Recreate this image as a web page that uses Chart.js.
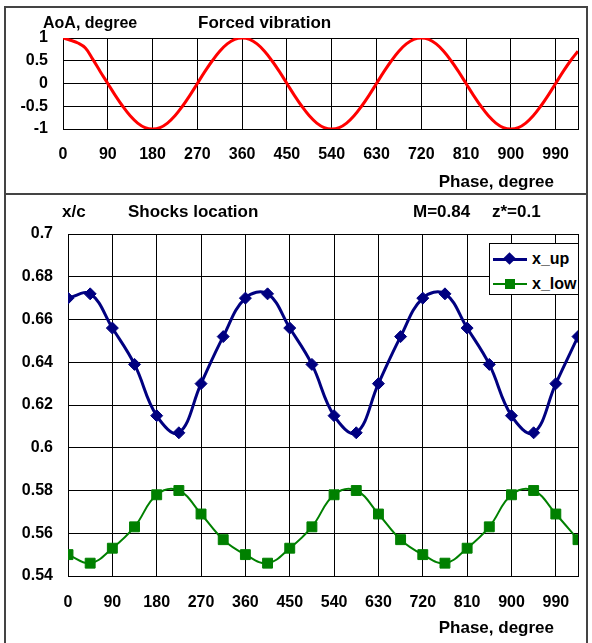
<!DOCTYPE html>
<html>
<head>
<meta charset="utf-8">
<script src="https://cdn.jsdelivr.net/npm/chart.js@4.4.0/dist/chart.umd.min.js"></script>
<style>
body { margin: 0; width: 592px; height: 643px; overflow: hidden; background: #fff; position: relative;
       font-family: "Liberation Sans", Arial, sans-serif; font-weight: bold; color: #000; }
.frame { position: absolute; border: 2px solid #444; box-sizing: border-box; }
.txt { position: absolute; line-height: 20px; white-space: nowrap; font-size: 17px; }
canvas { position: absolute; left: 0; }
#legend { position: absolute; left: 489px; top: 243px; width: 90px; height: 52px; border: 1px solid #000;
          background: #fff; box-sizing: border-box; }
.lrow { position: absolute; left: 0; width: 88px; height: 20px; }
.lline { position: absolute; left: 3px; top: 9px; width: 34px; }
.lmark { position: absolute; }
.ltext { position: absolute; left: 42px; top: 0; line-height: 20px; font-size: 16px; }
</style>
</head>
<body>
<div class="frame" style="left:4px;top:6px;width:584px;height:189px"></div>
<div class="frame" style="left:4px;top:193px;width:584px;height:470px"></div>

<canvas id="aoaChart" width="592" height="195" style="top:0"></canvas>
<canvas id="shockChart" width="592" height="448" style="top:195px"></canvas>

<div class="txt" style="left:43px;top:13px;font-size:16px">AoA, degree</div>
<div class="txt" style="left:198px;top:13px">Forced vibration</div>
<div class="txt" style="right:38px;top:172px">Phase, degree</div>

<div class="txt" style="left:62px;top:202px">x/c</div>
<div class="txt" style="left:128px;top:202px">Shocks location</div>
<div class="txt" style="left:413px;top:202px">M=0.84</div>
<div class="txt" style="left:492px;top:202px">z*=0.1</div>
<div class="txt" style="right:38px;top:618px">Phase, degree</div>

<div id="legend">
  <div class="lrow" style="top:5px">
    <div class="lline" style="height:3px;background:#000080"></div>
    <div class="lmark" style="left:15px;top:5px;width:9px;height:9px;background:#000080;transform:rotate(45deg)"></div>
    <div class="ltext">x_up</div>
  </div>
  <div class="lrow" style="top:30px">
    <div class="lline" style="height:2px;background:#008000"></div>
    <div class="lmark" style="left:15px;top:5px;width:10px;height:10px;background:#008000"></div>
    <div class="ltext">x_low</div>
  </div>
</div>

<script>
// forced vibration: angle of attack vs phase
var aoaPhase = [0, 15, 30, 45, 60, 75, 90, 105, 120, 135, 150, 165, 180, 195, 210, 225, 240, 255, 270, 285, 300, 315, 330, 345,
    360, 375, 390, 405, 420, 435, 450, 465, 480, 495, 510, 525, 540, 555, 570, 585, 600, 615, 630, 645, 660, 675, 690, 705,
    720, 735, 750, 765, 780, 795, 810, 825, 840, 855, 870, 885, 900, 915, 930, 945, 960, 975, 990, 1005, 1020, 1035]
var aoaValues = [1, 0.95, 0.89, 0.78, 0.53, 0.26, 0, -0.26, -0.5, -0.71, -0.87, -0.97, -1, -0.97, -0.87, -0.71, -0.5, -0.26, 0, 0.26, 0.5, 0.71, 0.87, 0.97,
    1, 0.97, 0.87, 0.71, 0.5, 0.26, 0, -0.26, -0.5, -0.71, -0.87, -0.97, -1, -0.97, -0.87, -0.71, -0.5, -0.26, 0, 0.26, 0.5, 0.71, 0.87, 0.97,
    1, 0.97, 0.87, 0.71, 0.5, 0.26, 0, -0.26, -0.5, -0.71, -0.87, -0.97, -1, -0.97, -0.87, -0.71, -0.5, -0.26, 0, 0.26, 0.5, 0.71]

// shock location on upper / lower surface
var shockPhase = [0, 45, 90, 135, 180, 225, 270, 315, 360, 405, 450, 495, 540, 585, 630, 675, 720, 765, 810, 855, 900, 945, 990, 1035]
var xUp = [0.670, 0.672, 0.656, 0.639, 0.615, 0.607, 0.630, 0.652,
    0.670, 0.672, 0.656, 0.639, 0.615, 0.607, 0.630, 0.652,
    0.670, 0.672, 0.656, 0.639, 0.615, 0.607, 0.630, 0.652]
var xLow = [0.550, 0.546, 0.553, 0.563, 0.578, 0.580, 0.569, 0.557,
    0.550, 0.546, 0.553, 0.563, 0.578, 0.580, 0.569, 0.557,
    0.550, 0.546, 0.553, 0.563, 0.578, 0.580, 0.569, 0.557]

var phaseMax = 1035
var phaseStep = 90

Chart.defaults.font.family = '"Liberation Sans", Arial, sans-serif'
Chart.defaults.font.weight = 'bold'
Chart.defaults.font.size = 16
Chart.defaults.color = '#000'

function toXY(xs, ys) {
    return xs.map(function(x, i) { return { x: x, y: ys[i] } })
}

function plainNum(v) {
    return String(Number(v.toFixed(2)))
}

// box around the plot area (right edge has no tick)
var plotFrame = {
    id: 'plotFrame',
    beforeDatasetsDraw: function(chart) {
        var a = chart.chartArea, ctx = chart.ctx
        ctx.save()
        ctx.strokeStyle = '#000'
        ctx.lineWidth = 1
        ctx.strokeRect(Math.round(a.left) + 0.5, Math.round(a.top) + 0.5, Math.round(a.right - a.left), Math.round(a.bottom - a.top))
        ctx.restore()
    }
}

function phaseAxis(pad, h) {
    return {
        type: 'linear',
        min: 0,
        max: phaseMax,
        grid: { color: '#000', drawTicks: false },
        border: { color: '#000' },
        ticks: { stepSize: phaseStep, includeBounds: false, padding: pad, maxRotation: 0 },
        afterFit: function(s) { s.height = h }
    }
}

new Chart(document.getElementById('aoaChart').getContext('2d'), {
    type: 'line',
    data: {
        datasets: [{
            label: 'AoA',
            data: toXY(aoaPhase, aoaValues),
            borderColor: '#ff0000',
            borderWidth: 3,
            pointRadius: 0,
            tension: 0.4
        }]
    },
    options: {
        responsive: false,
        animation: false,
        layout: { padding: { top: 38, right: 14, left: 0, bottom: 0 } },
        plugins: { legend: { display: false }, tooltip: { enabled: false } },
        scales: {
            x: phaseAxis(16, 66),
            y: {
                min: -1,
                max: 1,
                grid: { color: '#000', drawTicks: false },
                border: { color: '#000' },
                ticks: { stepSize: 0.5, padding: 15, callback: plainNum },
                afterFit: function(s) { s.width = 63 }
            }
        }
    },
    plugins: [plotFrame]
})

new Chart(document.getElementById('shockChart').getContext('2d'), {
    type: 'line',
    data: {
        datasets: [{
            label: 'x_up',
            data: toXY(shockPhase, xUp),
            borderColor: '#000080',
            backgroundColor: '#000080',
            borderWidth: 3,
            pointStyle: 'rectRot',
            pointRadius: 6,
            pointBorderWidth: 1,
            tension: 0.4
        }, {
            label: 'x_low',
            data: toXY(shockPhase, xLow),
            borderColor: '#008000',
            backgroundColor: '#008000',
            borderWidth: 2,
            pointStyle: 'rect',
            pointRadius: 7,
            pointBorderWidth: 1,
            tension: 0.4
        }]
    },
    options: {
        responsive: false,
        animation: false,
        layout: { padding: { top: 39, right: 14, left: 0, bottom: 0 } },
        plugins: { legend: { display: false }, tooltip: { enabled: false } },
        scales: {
            x: phaseAxis(17, 67),
            y: {
                min: 0.54,
                max: 0.7,
                grid: { color: '#000', drawTicks: false },
                border: { color: '#000' },
                ticks: { stepSize: 0.02, padding: 15, callback: plainNum },
                afterFit: function(s) { s.width = 68 }
            }
        }
    },
    plugins: [plotFrame]
})
</script>
</body>
</html>
